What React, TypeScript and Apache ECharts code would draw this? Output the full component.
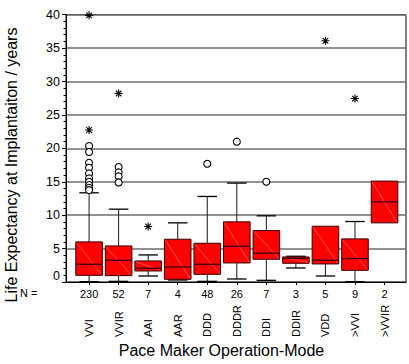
import React, { useEffect, useRef } from "react";
import * as echarts from "echarts";

// Pacemaker modes and group sizes
const categories = ["VVI", "VVIR", "AAI", "AAR", "DDD", "DDDR", "DDI", "DDIR", "VDD", ">VVI", ">VVIR"];
const counts = [230, 52, 7, 4, 48, 26, 7, 3, 5, 9, 2];

// Five-number summaries (years)
const whiskerLow = [0.05, 0.1, 0.9, 0.3, 0.1, 0.45, 0.25, 2.1, 0.9, 0.05, 8.85];
const q1 = [1.0, 0.95, 1.65, 0.4, 1.15, 2.85, 3.4, 2.8, 2.7, 1.75, 8.85];
const median = [2.65, 3.25, 2.05, 2.25, 2.65, 5.35, 4.3, 3.55, 3.25, 3.5, 12.0];
const q3 = [6.0, 5.4, 3.15, 6.4, 5.8, 9.0, 7.7, 3.75, 8.35, 6.45, 15.1];
const whiskerHigh = [13.35, 10.9, 4.05, 8.85, 12.8, 14.8, 9.9, 3.85, 8.35, 9.05, 15.1];

// Outliers (circles) and extremes (asterisks), keyed by category index
const outliers: [number, number[]][] = [
  [0, [20.35, 19.45, 17.85, 17.1, 16.25, 15.5, 15.0, 14.5, 14.1, 13.75]],
  [1, [17.2, 16.4, 15.8, 14.9]],
  [4, [17.7]],
  [5, [21.0]],
  [6, [15.0]],
];
const extremes: [number, number[]][] = [
  [0, [39.9, 22.75]],
  [1, [28.2]],
  [2, [8.3]],
  [8, [36.1]],
  [9, [27.45]],
];

const yTicks = { min: 0, max: 40, interval: 5 };

const FONT = "'Liberation Sans', Arial, Helvetica, sans-serif";

const toPoints = (groups: [number, number[]][]) =>
  groups.flatMap(([c, vals]) => vals.map((v) => [c, v]));

const ASTERISK = "path://M0,5L10,5M5,0L5,10M1.5,1.5L8.5,8.5M8.5,1.5L1.5,8.5";

export default function App() {
  const ref = useRef<HTMLDivElement>(null);

  useEffect(() => {
    if (!ref.current) return;
    const chart = echarts.init(ref.current, undefined, { renderer: "svg" });

    const boxData = categories.map((_, i) => [i, whiskerLow[i], q1[i], median[i], q3[i], whiskerHigh[i]]);

    const renderBox = (params: any, api: any) => {
      const idx = api.value(0);
      const lo = api.coord([idx, api.value(1)]);
      const b1 = api.coord([idx, api.value(2)]);
      const md = api.coord([idx, api.value(3)]);
      const b3 = api.coord([idx, api.value(4)]);
      const hi = api.coord([idx, api.value(5)]);
      const band = api.size([1, 0])[0];
      const bw = band * 0.9;
      const cw = band * 0.66;
      const x = lo[0];
      const left = x - bw / 2;
      const right = x + bw / 2;
      const whisk = { stroke: "#1a1a1a", lineWidth: 1 };
      const children: any[] = [];
      if (api.value(5) > api.value(4)) {
        children.push({ type: "line", shape: { x1: x, y1: b3[1], x2: x, y2: hi[1] }, style: whisk });
        children.push({ type: "line", shape: { x1: x - cw / 2, y1: hi[1], x2: x + cw / 2, y2: hi[1] }, style: { stroke: "#000", lineWidth: 1.3 } });
      }
      if (api.value(1) < api.value(2)) {
        children.push({ type: "line", shape: { x1: x, y1: b1[1], x2: x, y2: lo[1] }, style: whisk });
        children.push({ type: "line", shape: { x1: x - cw / 2, y1: lo[1], x2: x + cw / 2, y2: lo[1] }, style: { stroke: "#000", lineWidth: 1.3 } });
      }
      children.push({
        type: "rect",
        shape: { x: left, y: b3[1], width: bw, height: b1[1] - b3[1] },
        style: { fill: "#ff0000", stroke: "#3a0000", lineWidth: 1 },
      });
      children.push({
        type: "line",
        shape: { x1: left + 1, y1: b3[1] + 1, x2: right - 1, y2: b1[1] - 1 },
        style: { stroke: "rgba(255,175,175,0.75)", lineWidth: 0.6 },
      });
      children.push({
        type: "line",
        shape: { x1: left, y1: md[1], x2: right, y2: md[1] },
        style: { stroke: "#4a0000", lineWidth: 1.4 },
      });
      return { type: "group", children };
    };

    chart.setOption({
      animation: false,
      textStyle: { fontFamily: FONT, color: "#000" },
      grid: [
        { left: 66, top: 14.7, width: 340, height: 267.3, show: true, borderColor: "#000", borderWidth: 1, backgroundColor: "transparent" },
        { left: 74.3, top: 14.7, width: 325, height: 267.3 },
      ],
      xAxis: [
        {
          type: "value",
          gridIndex: 0,
          min: 0,
          max: 1,
          axisLine: { show: true, lineStyle: { color: "#000", width: 1 } },
          axisTick: { show: false },
          axisLabel: { show: false },
          splitLine: { show: false },
        },
        {
          type: "category",
          gridIndex: 1,
          position: "bottom",
          data: categories,
          boundaryGap: true,
          axisLine: { show: false },
          axisTick: { show: true, alignWithLabel: true, length: 3, lineStyle: { color: "#000" } },
          axisLabel: {
            interval: 0,
            rotate: 90,
            align: "left",
            verticalAlign: "middle",
            margin: 55,
            fontSize: 11,
            color: "#000",
            fontFamily: FONT,
          },
        },
        {
          type: "category",
          gridIndex: 1,
          position: "bottom",
          data: counts.map(String),
          boundaryGap: true,
          axisLine: { show: false },
          axisTick: { show: false },
          axisLabel: { interval: 0, margin: 6, fontSize: 11, color: "#000", fontFamily: FONT },
        },
      ],
      yAxis: [
        {
          type: "value",
          gridIndex: 0,
          min: yTicks.min,
          max: yTicks.max,
          interval: yTicks.interval,
          axisLine: { show: true, lineStyle: { color: "#000", width: 1 } },
          axisTick: { show: true, length: 4, lineStyle: { color: "#000" } },
          minorTick: { show: true, splitNumber: 5, length: 2.5, lineStyle: { color: "#000" } },
          splitLine: { show: true, lineStyle: { color: "#6e6e6e", width: 1.5 } },
          axisLabel: {
            margin: 6,
            fontSize: 12.5,
            color: "#000",
            fontFamily: FONT,
            formatter: (v: number) => (v === 0 ? "{z|0}" : String(v)),
            rich: { z: { fontSize: 12.5, fontFamily: FONT, color: "#000", padding: [0, 0, 12, 0] } },
          },
        },
        {
          type: "value",
          gridIndex: 1,
          min: yTicks.min,
          max: yTicks.max,
          show: false,
          splitLine: { show: false },
        },
      ],
      graphic: [
        {
          type: "text",
          left: 20,
          top: 287,
          style: { text: "N =", fontSize: 11, fontFamily: FONT, fill: "#000" },
        },
        {
          type: "text",
          x: 11,
          y: 165,
          rotation: Math.PI / 2,
          style: {
            text: "Life Expectancy at Implantaiton / years",
            fontSize: 16,
            fontFamily: FONT,
            fill: "#000",
            align: "center",
            verticalAlign: "middle",
          },
        },
        {
          type: "text",
          x: 221.5,
          y: 350,
          style: {
            text: "Pace Maker Operation-Mode",
            fontSize: 16,
            fontFamily: FONT,
            fill: "#000",
            align: "center",
            verticalAlign: "middle",
          },
        },
      ],
      series: [
        {
          type: "custom",
          xAxisIndex: 1,
          yAxisIndex: 1,
          renderItem: renderBox,
          encode: { x: 0, y: [1, 2, 3, 4, 5] },
          data: boxData,
          clip: false,
          z: 3,
        },
        {
          type: "scatter",
          xAxisIndex: 1,
          yAxisIndex: 1,
          symbol: "circle",
          symbolSize: 7,
          itemStyle: { color: "#fff", borderColor: "#000", borderWidth: 1.1, opacity: 1 },
          data: toPoints(outliers),
          clip: false,
          z: 4,
        },
        {
          type: "scatter",
          xAxisIndex: 1,
          yAxisIndex: 1,
          symbol: ASTERISK,
          symbolSize: 8,
          itemStyle: { color: "none", borderColor: "#000", borderWidth: 1.1, opacity: 1 },
          data: toPoints(extremes),
          clip: false,
          z: 4,
        },
      ],
    });

    return () => chart.dispose();
  }, []);

  return (
    <div
      ref={ref}
      style={{ position: "fixed", left: 0, top: 0, width: 409, height: 364, background: "#fff" }}
    />
  );
}
